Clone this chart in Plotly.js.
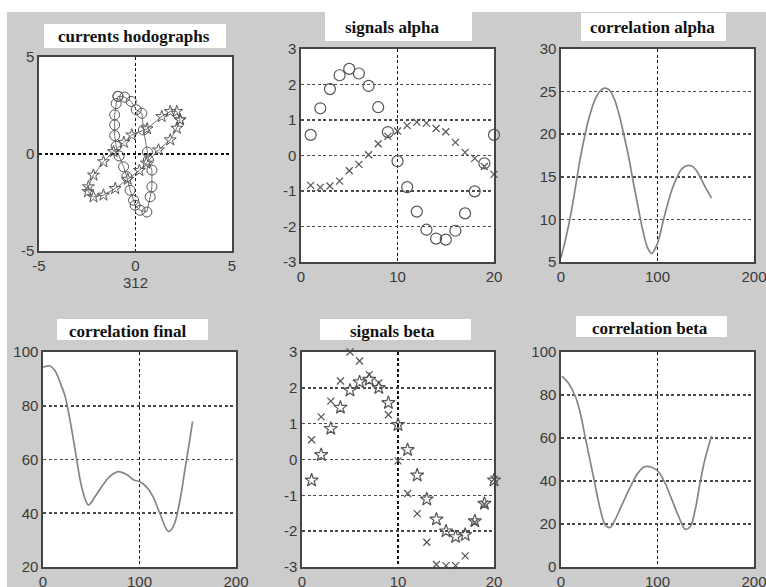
<!DOCTYPE html>
<html><head><meta charset="utf-8">
<script src="https://cdn.plot.ly/plotly-3.0.1.min.js"></script>
<style>html,body{margin:0;padding:0;background:#fff}#chart{width:766px;height:587px}</style>
</head><body><div id="chart"></div>
<script>
// ---------- data ----------
var titles = ['currents hodographs','signals alpha','correlation alpha','correlation final','signals beta','correlation beta'];
var hodoXLabel = '312';

var hodoCircX = [-0.91,-0.56,-0.22,0.04,0.33,0.41,0.62,0.67,0.85,0.85,0.76,0.59,0.24,-0.02,-0.10,-0.28,-0.45,-0.62,-0.85,-1.00,-1.08,-1.08,-1.08,-1.00,-0.91];
var hodoCircY = [2.97,2.93,2.71,2.28,2.10,1.24,0.10,-0.31,-0.83,-1.69,-2.21,-2.99,-2.90,-2.64,-2.38,-1.87,-1.17,-0.66,-0.10,0.40,0.95,1.50,2.02,2.60,2.97];
var hodoStarX = [2.31,2.14,1.80,1.36,0.60,-0.19,-0.60,-1.14,-1.66,-2.18,-2.44,-2.46,-2.18,-1.66,-1.05,-0.40,0.20,0.56,1.19,1.80,2.14,2.31];
var hodoStarY = [1.76,2.19,2.19,1.93,1.30,0.98,0.60,0.12,-0.40,-1.09,-1.69,-1.94,-2.21,-2.12,-1.78,-1.30,-0.85,-0.47,0.21,0.73,1.33,1.76];

var sigT = [1,2,3,4,5,6,7,8,9,10,11,12,13,14,15,16,17,18,19,20];
var alphaCirc  = [0.58,1.33,1.87,2.26,2.44,2.31,1.96,1.36,0.66,-0.16,-0.89,-1.58,-2.09,-2.34,-2.37,-2.12,-1.63,-1.01,-0.22,0.58];
var alphaCross = [-0.84,-0.90,-0.86,-0.72,-0.43,-0.25,0.02,0.33,0.54,0.69,0.84,0.94,0.91,0.76,0.67,0.37,0.09,-0.08,-0.31,-0.53];
var betaStar   = [-0.58,0.13,0.86,1.45,1.93,2.16,2.23,2.00,1.58,0.97,0.27,-0.44,-1.11,-1.67,-2.00,-2.16,-2.10,-1.72,-1.23,-0.58];
var betaCross  = [0.55,1.19,1.63,2.19,3.00,2.75,2.37,2.14,1.25,-0.04,-0.95,-1.51,-2.31,-2.93,-2.96,-2.96,-2.69,-1.75,-1.25,-0.55];

var corrAlphaX = [0,5,10,15,20,25,30,35,40,45,50,55,60,65,70,75,80,85,90,94,100,105,110,115,120,125,130,135,140,145,150,156];
var corrAlphaY = [5.5,7.8,10.5,13.8,17.2,20.0,22.3,24.0,25.0,25.4,25.2,24.2,22.4,20.0,17.4,14.3,11.4,8.6,6.6,6.0,7.2,9.4,11.6,13.5,14.9,15.9,16.3,16.3,15.8,14.8,13.7,12.5];

var corrFinalX = [0,7,12,18,23,26,31,35,40,47,54,62,69,78,87,94,100,107,114,121,130,135,142,147,151,155];
var corrFinalY = [94.3,94.8,93.3,88.4,83.4,78.4,68.5,59.8,49.9,43.1,46.2,50.5,53.6,55.5,54.3,52.4,51.8,49.9,46.2,40.0,33.2,35.0,44.9,56.1,64.8,74.1];

var corrBetaX = [1,8,15,20,25,30,35,40,46,51,56,63,72,80,87,94,101,108,115,122,129,134,139,144,149,156];
var corrBetaY = [88.8,85.4,79.2,71.5,60.6,49.8,38.9,28.1,19.5,18.4,21.9,28.8,37.4,43.9,46.7,46.4,44.3,38.9,31.2,23.4,17.5,18.8,26.5,38.9,49.8,60.9];

var hodoTicks = [-5,0,5], hodoTickText = ['-5','0','5'];
var sigXTicks = [0,10,20], sigXText = ['0','10','20'];
var sigYTicks = [-3,-2,-1,0,1,2,3], sigYText = ['-3','-2','-1','0','1','2','3'];
var corrXTicks = [0,100,200], corrXText = ['0','100','200'];
var caYTicks = [5,10,15,20,25,30], caYText = ['5','10','15','20','25','30'];
var cfYTicks = [20,40,60,80,100], cfYText = ['20','40','60','80','100'];
var cbYTicks = [0,20,40,60,80,100], cbYText = ['0','20','40','60','80','100'];

// ---------- layout helpers ----------
var W = 766, H = 587;
function px(x){ return x / W; }
function py(y){ return 1 - y / H; }
var tickFont = {family:'Liberation Sans, Arial, sans-serif', size:15, color:'#3a3a3a'};
function axis(dom, range, tv, tt, anchor, gridc){
  return {domain:dom, range:range, tickmode:'array', tickvals:tv, ticktext:tt, anchor:anchor,
    showgrid:true, gridcolor:gridc, griddash:'3px,2.5px', gridwidth:1.6, zeroline:false,
    showline:true, mirror:true, linecolor:'#444', linewidth:1.6, ticks:'',
    ticklabeloverflow:'allow', tickfont:tickFont, fixedrange:true};
}
// plot boxes in pixels [left,right,top,bottom]
var boxes = [[39,232,57,251],[301,494,49,262],[561,754,49,262],[43,236,352,567],[302,494,352,567],[561,754,352,567]];
function xd(i){ return [px(boxes[i][0]), px(boxes[i][1])]; }
function yd(i){ return [py(boxes[i][3]), py(boxes[i][2])]; }

var gx = '#111', gy = '#4a4a4a';
var layout = {
  width:W, height:H, margin:{l:0,r:0,t:0,b:0}, paper_bgcolor:'#cccccc', plot_bgcolor:'#ffffff',
  showlegend:false,
  xaxis:  axis(xd(0), [-5,5], hodoTicks, hodoTickText, 'y', gx),
  yaxis:  axis(yd(0), [-5,5], hodoTicks, hodoTickText, 'x', gx),
  xaxis2: axis(xd(1), [0,20], sigXTicks, sigXText, 'y2', gx),
  yaxis2: axis(yd(1), [-3,3], sigYTicks, sigYText, 'x2', gy),
  xaxis3: axis(xd(2), [0,200], corrXTicks, corrXText, 'y3', gx),
  yaxis3: axis(yd(2), [5,30], caYTicks, caYText, 'x3', gy),
  xaxis4: axis(xd(3), [0,200], corrXTicks, corrXText, 'y4', gx),
  yaxis4: axis(yd(3), [20,100], cfYTicks, cfYText, 'x4', gy),
  xaxis5: axis(xd(4), [0,20], sigXTicks, sigXText, 'y5', gx),
  yaxis5: axis(yd(4), [-3,3], sigYTicks, sigYText, 'x5', gy),
  xaxis6: axis(xd(5), [0,200], corrXTicks, corrXText, 'y6', gx),
  yaxis6: axis(yd(5), [0,100], cbYTicks, cbYText, 'x6', gy),
  shapes:[], annotations:[]
};
layout.xaxis.title = {text:hodoXLabel, font:{family:'Liberation Sans, Arial, sans-serif', size:15, color:'#3a3a3a'}, standoff:2};

// white margins (top and left strip)
layout.shapes.push({type:'rect', xref:'paper', yref:'paper', x0:0, x1:1, y0:py(12), y1:1, fillcolor:'#ffffff', line:{width:0}, layer:'below'});
layout.shapes.push({type:'rect', xref:'paper', yref:'paper', x0:0, x1:px(7), y0:0, y1:1, fillcolor:'#ffffff', line:{width:0}, layer:'below'});

// title boxes [l,r,t,b] and text centers
var tBoxes = [[44,226,24,48],[325,472,12,41],[581,726,13,41],[57,208,319,340],[320,471,319,340],[576,727,316,337]];
var tCenters = [[134,37],[392,27],[652,27],[128,331],[392,331],[650,328]];
for (var i=0;i<6;i++){
  var b = tBoxes[i];
  layout.shapes.push({type:'rect', xref:'paper', yref:'paper', x0:px(b[0]), x1:px(b[1]), y0:py(b[3]), y1:py(b[2]), fillcolor:'#ffffff', line:{width:0}, layer:'below'});
  layout.annotations.push({xref:'paper', yref:'paper', x:px(tCenters[i][0]), y:py(tCenters[i][1]), xanchor:'center', yanchor:'middle', showarrow:false,
    text:'<b>'+titles[i]+'</b>', font:{family:'Liberation Serif, Times New Roman, serif', size:17, color:'#111'}});
}

var mk = '#555', ln = '#858585';
var traces = [
  {x:hodoCircX, y:hodoCircY, xaxis:'x', yaxis:'y', mode:'lines+markers', line:{color:'#777', width:1},
   marker:{symbol:'circle-open', size:10, color:mk, line:{color:mk, width:1}}},
  {x:hodoStarX, y:hodoStarY, xaxis:'x', yaxis:'y', mode:'lines+markers', line:{color:'#777', width:1},
   marker:{symbol:'star-open', size:9, color:mk, line:{color:mk, width:1}}},
  {x:sigT, y:alphaCirc, xaxis:'x2', yaxis:'y2', mode:'markers', marker:{symbol:'circle-open', size:11, color:mk, line:{color:mk, width:1.2}}},
  {x:sigT, y:alphaCross, xaxis:'x2', yaxis:'y2', mode:'markers', marker:{symbol:'x-thin-open', size:7, color:mk, line:{color:mk, width:1.2}}},
  {x:corrAlphaX, y:corrAlphaY, xaxis:'x3', yaxis:'y3', mode:'lines', line:{color:ln, width:1.7, shape:'spline'}},
  {x:corrFinalX, y:corrFinalY, xaxis:'x4', yaxis:'y4', mode:'lines', line:{color:ln, width:1.7, shape:'spline'}},
  {x:sigT, y:betaStar, xaxis:'x5', yaxis:'y5', mode:'markers', marker:{symbol:'star-open', size:10, color:mk, line:{color:mk, width:1.2}}},
  {x:sigT, y:betaCross, xaxis:'x5', yaxis:'y5', mode:'markers', marker:{symbol:'x-thin-open', size:7, color:mk, line:{color:mk, width:1.2}}},
  {x:corrBetaX, y:corrBetaY, xaxis:'x6', yaxis:'y6', mode:'lines', line:{color:ln, width:1.7, shape:'spline'}}
];
traces.forEach(function(t){ t.cliponaxis = false; t.hoverinfo='skip'; });
Plotly.newPlot('chart', traces, layout, {staticPlot:true});
</script></body></html>
